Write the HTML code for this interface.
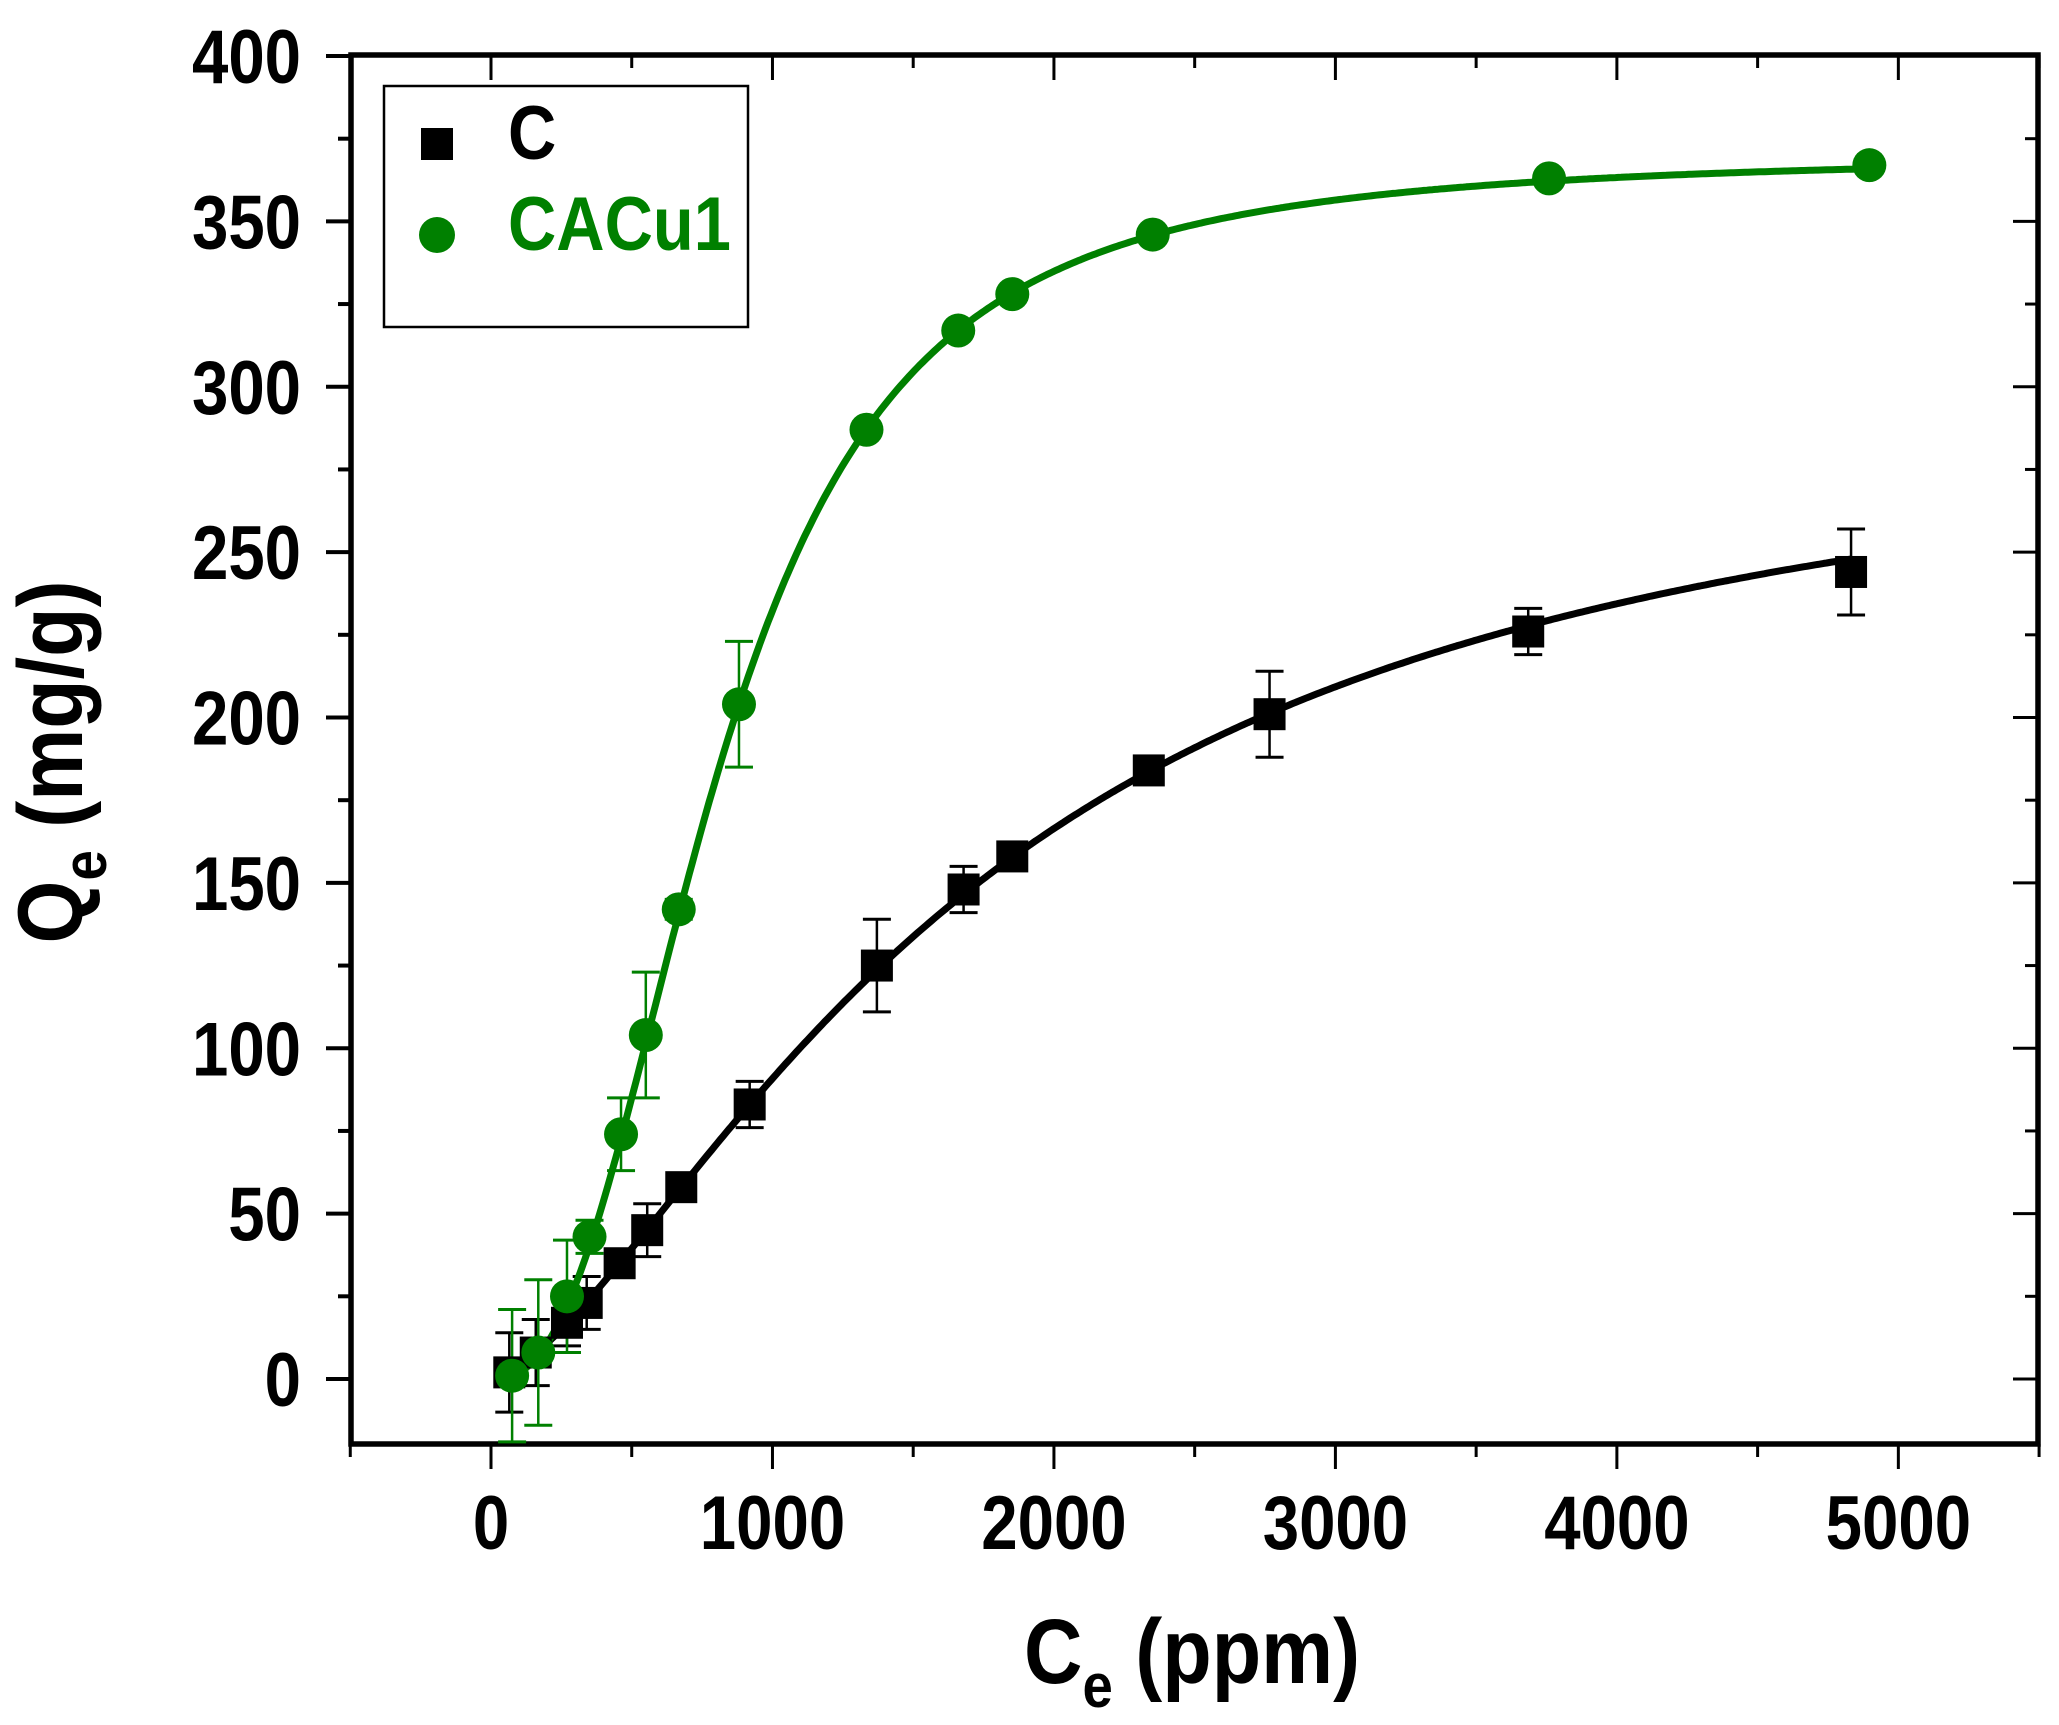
<!DOCTYPE html>
<html><head><meta charset="utf-8"><style>
html,body{margin:0;padding:0;background:#fff;}
svg{display:block;font-family:"Liberation Sans",Arial,sans-serif;font-weight:bold;}
</style></head><body>
<svg id="s" width="2059" height="1725" viewBox="0 0 2059 1725" xmlns="http://www.w3.org/2000/svg">
<g id="g"></g>
<g transform="translate(1024,1683) scale(0.88,1)"><text x="0" y="0" font-size="92">C<tspan font-size="62" dy="24">e</tspan><tspan dy="-24"> (ppm)</tspan></text></g>
<g transform="translate(82,762) rotate(-90) scale(0.88,1)"><text text-anchor="middle" font-size="92">Q<tspan font-size="62" dy="24">e</tspan><tspan dy="-24"> (mg/g)</tspan></text></g>
<rect x="384" y="86" width="364" height="241" fill="#fff" stroke="#000" stroke-width="2.5"/>
<rect x="421" y="128" width="32" height="32" fill="#000"/>
<g transform="translate(508,159) scale(0.88,1)"><text font-size="76">C</text></g>
<circle cx="437" cy="235" r="18" fill="#008000"/>
<g transform="translate(508,250) scale(0.88,1)"><text font-size="76" fill="#008000">CACu1</text></g>
</svg>
<script>
var NS="http://www.w3.org/2000/svg",g=document.getElementById("g");
function X(v){return 491+v*0.28147;}function Y(v){return 1379-v*3.3075;}
function el(t,a){var e=document.createElementNS(NS,t);for(var k in a)e.setAttribute(k,a[k]);g.appendChild(e);return e;}
function lab(x,y,txt,anchor){var gg=el("g",{transform:"translate("+x+","+y+") scale(0.86,1)"});var t=document.createElementNS(NS,"text");t.setAttribute("text-anchor",anchor);t.setAttribute("font-size","76");t.textContent=txt;gg.appendChild(t);}
var L=351,R=2038,T=55,B=1444;
for(var v=-500;v<=5500;v+=500){var x=X(v),maj=(v%1000==0);
 el("line",{x1:x,x2:x,y1:B,y2:B+(maj?25:13),stroke:"#000","stroke-width":3});
 el("line",{x1:x,x2:x,y1:T,y2:T+(maj?25:13),stroke:"#000","stroke-width":3});
 if(maj&&v>=0&&v<=5000)lab(x,1549,""+v,"middle");}
for(var v=-25;v<=400;v+=25){var y=Y(v);if(y>B+1)continue;var maj=(v%50==0);
 el("line",{x1:L,x2:L-(maj?25:13),y1:y,y2:y,stroke:"#000","stroke-width":4});
 el("line",{x1:R,x2:R-(maj?25:13),y1:y,y2:y,stroke:"#000","stroke-width":3});
 if(maj)lab(301,y+27,""+v,"end");}
el("rect",{x:L,y:T,width:R-L,height:B-T,fill:"none",stroke:"#000","stroke-width":5.5});
var C=[[65,2,12],[159,8,10],[270,17,7],[340,23,8],[457,35,4],[555,45,8],[676,58,3],[919,83,7],[1371,125,14],[1679,148,7],[1852,158,3],[2337,184,2],[2766,201,13],[3685,226,7],[4832,244,13]];
var G=[[75,1,20],[168,8,22],[270,25,17],[350,43,5],[462,74,11],[550,104,19],[667,142,3],[881,204,19],[1334,287,2],[1660,317,2],[1852,328,2],[2351,346,2],[3759,363,2],[4897,367,2]];
function sips(qm,c0,a,n,c){var r=a*Math.pow(c/c0,n);return qm*r/(1+r);}
function curve(f,c1,c2,col){var s="";for(var c=c1;c<=c2;c+=10){s+=(s?"L":"M")+X(c).toFixed(1)+","+Y(f(c)).toFixed(1);}
 el("path",{d:s,fill:"none",stroke:col,"stroke-width":7,"stroke-linejoin":"round"});}
function err(d,col){d.forEach(function(a){var x=X(a[0]),y1=Y(a[1]+a[2]),y2=Y(a[1]-a[2]);
 el("line",{x1:x,x2:x,y1:y1,y2:y2,stroke:col,"stroke-width":2.5});
 el("line",{x1:x-14,x2:x+14,y1:y1,y2:y1,stroke:col,"stroke-width":3});
 el("line",{x1:x-14,x2:x+14,y1:y2,y2:y2,stroke:col,"stroke-width":3});});}
err(C,"#000");err(G,"#008000");
curve(function(c){return sips(300,919,0.382,1.52,c);},65,4835,"#000");
curve(function(c){return sips(370,881,1.229,2.5,c);},75,4900,"#008000");
C.forEach(function(a){el("rect",{x:X(a[0])-16,y:Y(a[1])-16,width:32,height:32,fill:"#000"});});
G.forEach(function(a){el("circle",{cx:X(a[0]),cy:Y(a[1]),r:17,fill:"#008000"});});
</script>
</body></html>
